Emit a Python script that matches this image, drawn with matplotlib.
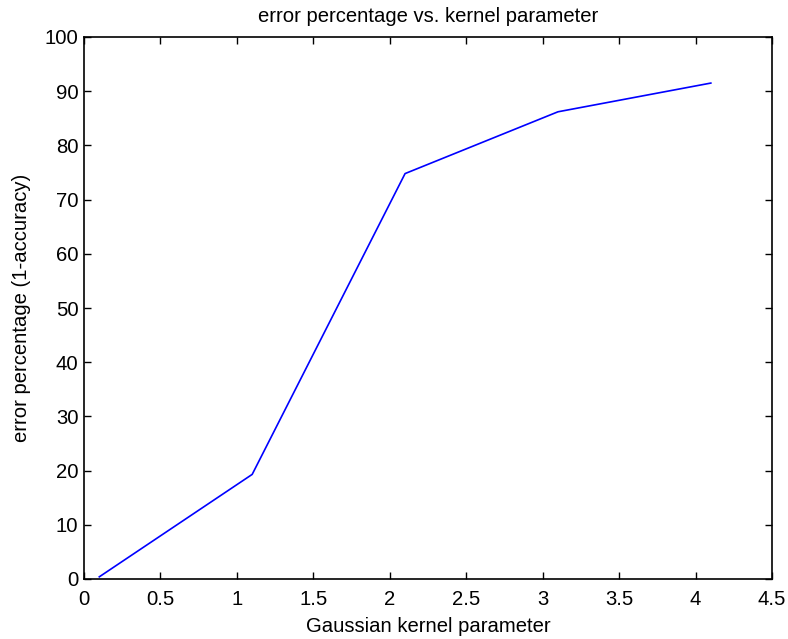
import matplotlib
matplotlib.use("Agg")
import matplotlib.pyplot as plt

kernel_param = [0.1, 1.1, 2.1, 3.1, 4.1]
error_pct = [0.4, 19.3, 74.8, 86.2, 91.5]
x_ticks = [0, 0.5, 1, 1.5, 2, 2.5, 3, 3.5, 4, 4.5]
y_ticks = [0, 10, 20, 30, 40, 50, 60, 70, 80, 90, 100]

plt.rcParams['font.family'] = ['Liberation Sans', 'DejaVu Sans']
fs = 14.6
plt.rcParams['font.size'] = fs

fig = plt.figure(figsize=(7.88, 6.39), dpi=100)
ax = fig.add_axes([84/788, 1-579/639, (772-84)/788, (579-37)/639])
ax.plot(kernel_param, error_pct, color='#0000ff', linewidth=1.2)
ax.set_xlim(0, 4.5)
ax.set_ylim(0, 100)
ax.set_xticks(x_ticks)
ax.set_xticklabels([f"{t:g}" for t in x_ticks])
ax.set_yticks(y_ticks)
ax.tick_params(direction='in', top=True, right=True, length=5, width=1, labelsize=fs)
ax.tick_params(axis='x', pad=8)
ax.tick_params(axis='y', pad=4)
for s in ax.spines.values():
    s.set_linewidth(1.2)
ax.set_title('error percentage vs. kernel parameter', fontsize=fs, pad=11)
ax.set_xlabel('Gaussian kernel parameter', fontsize=fs, labelpad=6)
ax.set_ylabel('error percentage (1-accuracy)', fontsize=fs, labelpad=9.5)
fig.savefig('out.png', dpi=100)
